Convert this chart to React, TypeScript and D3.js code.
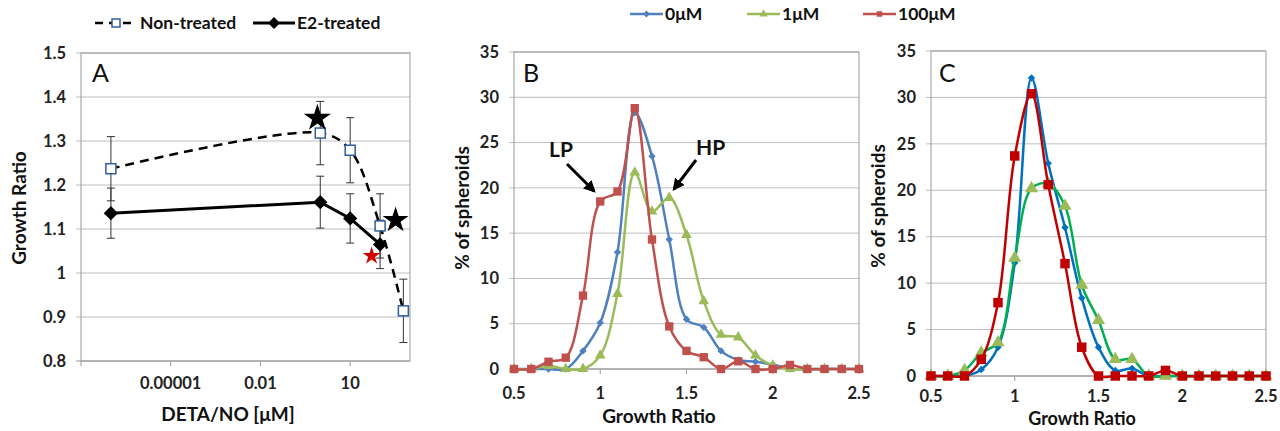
import React, { useEffect, useRef } from 'react';
import * as d3 from 'd3';

// ---- panel A : growth ratio vs DETA/NO dose (log axis)
const detaDoses = [1e-7, 1, 10, 100, 600];
const nonTreated = [1.237, 1.318, 1.279, 1.107, 0.914];
const nonTreatedErr = [0.073, 0.072, 0.074, 0.073, 0.072];
const e2Doses = [1e-7, 1, 10, 100];
const e2Treated = [1.136, 1.161, 1.124, 1.065];
const e2Err = [0.057, 0.059, 0.056, 0.055];
const starDoses = [0.8, 330, 52];
const starValues = [1.352, 1.12, 1.039];
const starColors = ['#000000', '#000000', '#D00000'];
const starSizes = [230, 210, 100];
const aYTicks = [0.8, 0.9, 1, 1.1, 1.2, 1.3, 1.4, 1.5];
const aXTicks = [1e-8, 1e-5, 1e-2, 10];
const aXTickLabels = ['', '0.00001', '0.01', '10'];

// ---- panels B and C : % of spheroids per growth ratio bin
const bins = [0.5, 0.6, 0.7, 0.8, 0.9, 1.0, 1.1, 1.2, 1.3, 1.4, 1.5, 1.6, 1.7, 1.8, 1.9, 2.0, 2.1, 2.2, 2.3, 2.4, 2.5];
const b0uM = [0, 0, 0, 0, 2.0, 5.1, 12.9, 28.3, 23.5, 14.3, 5.5, 4.6, 2.0, 1.0, 0.8, 0.5, 0, 0, 0, 0, 0];
const b1uM = [0, 0, 0.35, 0, 0, 1.5, 8.3, 21.7, 17.4, 18.9, 14.8, 7.5, 3.8, 3.5, 1.5, 0.4, 0, 0, 0, 0, 0];
const b100uM = [0, 0, 0.8, 1.25, 8.1, 18.5, 19.6, 28.8, 14.3, 4.7, 2.0, 1.3, 0, 0.85, 0, 0, 0.45, 0, 0, 0, 0];
const c0uM = [0, 0, 0, 0.7, 3.1, 12.2, 32.1, 22.9, 16.0, 8.4, 3.1, 0.6, 0.8, 0, 0, 0, 0, 0, 0, 0, 0];
const c1uM = [0, 0, 0.6, 2.5, 3.6, 12.7, 20.2, 20.7, 18.3, 9.8, 6.0, 1.8, 1.8, 0, 0, 0, 0, 0, 0, 0, 0];
const c100uM = [0, 0, 0, 1.8, 7.9, 23.7, 30.4, 20.6, 12.1, 3.1, 0, 0, 0, 0, 0.6, 0, 0, 0, 0, 0, 0];
const seriesNames = ['0μM', '1μM', '100μM'];
const pctTicks = [0, 5, 10, 15, 20, 25, 30, 35];
const ratioTicks = [0.5, 1, 1.5, 2, 2.5];

const FONT = "Lato, 'Open Sans', sans-serif";
const GRID = '#BFBFBF';
const AXIS = '#9A9A9A';
const TICK_SIZE = 16.5;
const TITLE_SIZE = 19;
const LEGEND_SIZE = 17.5;

const App = () => {
  const svgRef = useRef();

  useEffect(() => {
    const svg = d3.select(svgRef.current);
    svg.selectAll('*').remove();
    svg.append('rect').attr('width', 1280).attr('height', 431).attr('fill', 'white');

    const defs = svg.append('defs');
    defs.append('marker')
      .attr('id', 'arrow')
      .attr('viewBox', '0 0 10 10')
      .attr('refX', 8).attr('refY', 5)
      .attr('markerWidth', 4).attr('markerHeight', 4)
      .attr('orient', 'auto')
      .append('path').attr('d', 'M0,0 L10,5 L0,10 Z').attr('fill', 'black');

    // common frame: grid, border, ticks and tick labels
    const frame = (x, y, yTicks, xTicks, xLabels, yFmt, xLabelY) => {
      const [x0, x1] = x.range();
      const [y0, y1] = y.range();
      const g = svg.append('g');
      yTicks.forEach(t => {
        g.append('line').attr('x1', x0 - 5).attr('x2', x1).attr('y1', y(t)).attr('y2', y(t))
          .attr('stroke', t === yTicks[0] ? AXIS : GRID).attr('stroke-width', 1);
        g.append('text').attr('x', x0 - 15).attr('y', y(t)).attr('dy', '0.35em')
          .attr('text-anchor', 'end').attr('font-family', FONT).attr('font-weight', 700)
          .attr('font-size', TICK_SIZE).attr('fill', '#222').text(yFmt(t));
      });
      g.append('rect').attr('x', x0).attr('y', y1).attr('width', x1 - x0).attr('height', y0 - y1)
        .attr('fill', 'none').attr('stroke', AXIS).attr('stroke-width', 1);
      xTicks.forEach((t, i) => {
        g.append('line').attr('x1', x(t)).attr('x2', x(t)).attr('y1', y0).attr('y2', y0 + 5)
          .attr('stroke', AXIS);
        g.append('text').attr('x', x(t)).attr('y', xLabelY)
          .attr('text-anchor', 'middle').attr('font-family', FONT).attr('font-weight', 700)
          .attr('font-size', TICK_SIZE).attr('fill', '#222').text(xLabels[i]);
      });
    };

    const title = (text, x, y, rotate, size = TITLE_SIZE) => {
      svg.append('text')
        .attr('transform', rotate ? `translate(${x},${y}) rotate(-90)` : `translate(${x},${y})`)
        .attr('text-anchor', 'middle').attr('dy', '0.35em')
        .attr('font-family', FONT).attr('font-weight', 700).attr('font-size', size)
        .attr('fill', '#111').text(text);
    };

    const panelLetter = (text, x, y) => {
      svg.append('text').attr('x', x).attr('y', y).attr('font-family', FONT)
        .attr('font-size', 25).attr('fill', '#111').text(text);
    };

    // ================= Panel A
    const xA = d3.scaleLog().domain([1e-8, 1e3]).range([81, 410]);
    const yA = d3.scaleLinear().domain([0.8, 1.5]).range([361, 53]);
    frame(xA, yA, aYTicks, aXTicks, aXTickLabels, d => d3.format('')(+d.toFixed(1)), 389);
    panelLetter('A', 92, 82);
    title('Growth Ratio', 19, 208, true);
    title('DETA/NO [μM]', 228, 414, false);

    const errBar = (g, x, v, e) => {
      g.append('line').attr('x1', x).attr('x2', x).attr('y1', yA(v - e)).attr('y2', yA(v + e));
      [v - e, v + e].forEach(b => g.append('line').attr('x1', x - 4).attr('x2', x + 4)
        .attr('y1', yA(b)).attr('y2', yA(b)));
    };
    const eg = svg.append('g').attr('stroke', '#333').attr('stroke-width', 1);
    detaDoses.forEach((d, i) => errBar(eg, xA(d), nonTreated[i], nonTreatedErr[i]));
    e2Doses.forEach((d, i) => errBar(eg, xA(d), e2Treated[i], e2Err[i]));

    const ntLine = d3.line().x((d, i) => xA(detaDoses[i])).y(d => yA(d)).curve(d3.curveCatmullRom.alpha(0.5));
    svg.append('path').attr('d', ntLine(nonTreated)).attr('fill', 'none')
      .attr('stroke', 'black').attr('stroke-width', 2.5).attr('stroke-dasharray', '9,6');
    const e2Line = d3.line().x((d, i) => xA(e2Doses[i])).y(d => yA(d));
    svg.append('path').attr('d', e2Line(e2Treated)).attr('fill', 'none')
      .attr('stroke', 'black').attr('stroke-width', 3);

    const diamond = d3.symbol().type(d3.symbolDiamond2).size(130);
    e2Treated.forEach((v, i) => {
      svg.append('path').attr('d', diamond())
        .attr('transform', `translate(${xA(e2Doses[i])},${yA(v)})`).attr('fill', 'black');
    });
    nonTreated.forEach((v, i) => {
      svg.append('rect').attr('x', xA(detaDoses[i]) - 5).attr('y', yA(v) - 5)
        .attr('width', 10).attr('height', 10).attr('fill', 'white')
        .attr('stroke', '#2F5D9E').attr('stroke-width', 1.5);
    });
    starDoses.forEach((d, i) => {
      svg.append('path').attr('d', d3.symbol().type(d3.symbolStar).size(starSizes[i])())
        .attr('transform', `translate(${xA(d)},${yA(starValues[i])})`).attr('fill', starColors[i]);
    });

    // legend A
    const la = svg.append('g');
    la.append('line').attr('x1', 95).attr('x2', 137).attr('y1', 23).attr('y2', 23)
      .attr('stroke', 'black').attr('stroke-width', 2.5).attr('stroke-dasharray', '8,6');
    la.append('rect').attr('x', 112).attr('y', 19).attr('width', 8).attr('height', 8)
      .attr('fill', 'white').attr('stroke', '#2F5D9E').attr('stroke-width', 1.5);
    la.append('text').attr('x', 140).attr('y', 23).attr('dy', '0.35em').attr('font-family', FONT)
      .attr('font-weight', 700).attr('font-size', LEGEND_SIZE).attr('fill', '#111').text('Non-treated');
    la.append('line').attr('x1', 253).attr('x2', 295).attr('y1', 23).attr('y2', 23)
      .attr('stroke', 'black').attr('stroke-width', 3);
    la.append('path').attr('d', d3.symbol().type(d3.symbolDiamond2).size(90)())
      .attr('transform', 'translate(274,23)').attr('fill', 'black');
    la.append('text').attr('x', 297).attr('y', 23).attr('dy', '0.35em').attr('font-family', FONT)
      .attr('font-weight', 700).attr('font-size', LEGEND_SIZE).attr('fill', '#111').text('E2-treated');

    // ================= Panels B and C
    const markerTypes = [d3.symbolDiamond2, d3.symbolTriangle, d3.symbolSquare];

    const histPanel = (x, y, seriesList, lineColors, markerColors, markerSizes, xLabelY) => {
      frame(x, y, pctTicks, ratioTicks, ratioTicks.map(d => String(d)), d => String(d), xLabelY);
      const line = d3.line().x((d, i) => x(bins[i])).y(d => y(d)).curve(d3.curveCatmullRom.alpha(0.5));
      seriesList.forEach((vals, s) => {
        const g = svg.append('g');
        g.append('path').attr('d', line(vals)).attr('fill', 'none')
          .attr('stroke', lineColors[s]).attr('stroke-width', 2.5);
        const sym = d3.symbol().type(markerTypes[s]).size(markerSizes[s]);
        vals.forEach((v, i) => {
          g.append('path').attr('d', sym())
            .attr('transform', `translate(${x(bins[i])},${y(v)})`).attr('fill', markerColors[s]);
        });
      });
    };

    const xB = d3.scaleLinear().domain([0.5, 2.5]).range([514, 859]);
    const yB = d3.scaleLinear().domain([0, 35]).range([369, 52]);
    const colB = ['#4F81BD', '#9BBB59', '#C0504D'];
    // draw order: blue, green, red (red on top)
    histPanel(xB, yB, [b0uM, b1uM, b100uM], colB, colB, [35, 50, 70], 399);
    panelLetter('B', 523, 82);
    title('% of spheroids', 462, 208, true);
    title('Growth Ratio', 659, 416, false);

    // LP / HP annotations
    const ann = svg.append('g');
    ann.append('text').attr('x', 549).attr('y', 157).attr('font-family', FONT).attr('font-weight', 700)
      .attr('font-size', 21).attr('fill', '#111').text('LP');
    ann.append('text').attr('x', 696).attr('y', 155).attr('font-family', FONT).attr('font-weight', 700)
      .attr('font-size', 21).attr('fill', '#111').text('HP');
    ann.append('line').attr('x1', 567).attr('y1', 164).attr('x2', 594).attr('y2', 191)
      .attr('stroke', 'black').attr('stroke-width', 3).attr('marker-end', 'url(#arrow)');
    ann.append('line').attr('x1', 696).attr('y1', 160).attr('x2', 674).attr('y2', 189)
      .attr('stroke', 'black').attr('stroke-width', 3).attr('marker-end', 'url(#arrow)');

    const xC = d3.scaleLinear().domain([0.5, 2.5]).range([931, 1266]);
    const yC = d3.scaleLinear().domain([0, 35]).range([376, 51]);
    histPanel(xC, yC, [c0uM, c1uM, c100uM], ['#0070C0', '#00B050', '#C00000'],
      ['#0070C0', '#9BBB59', '#C00000'], [35, 75, 90], 402);
    panelLetter('C', 939, 82);
    title('% of spheroids', 878, 206, true);
    title('Growth Ratio', 1082, 419, false, 18);

    // legend B/C
    const legX = [630, 747, 863];
    seriesNames.forEach((name, s) => {
      const lg = svg.append('g');
      lg.append('line').attr('x1', legX[s]).attr('x2', legX[s] + 33).attr('y1', 14).attr('y2', 14)
        .attr('stroke', colB[s]).attr('stroke-width', 2.5);
      lg.append('path').attr('d', d3.symbol().type(markerTypes[s]).size(30)())
        .attr('transform', `translate(${legX[s] + 16.5},14)`).attr('fill', colB[s]);
      lg.append('text').attr('x', legX[s] + 35).attr('y', 14).attr('dy', '0.35em')
        .attr('font-family', FONT).attr('font-weight', 700).attr('font-size', LEGEND_SIZE)
        .attr('fill', '#111').text(name);
    });
  }, []);

  return (
    <svg ref={svgRef} width="1280" height="431"
      style={{ position: 'absolute', left: 0, top: 0, display: 'block' }}></svg>
  );
};

export default App;
